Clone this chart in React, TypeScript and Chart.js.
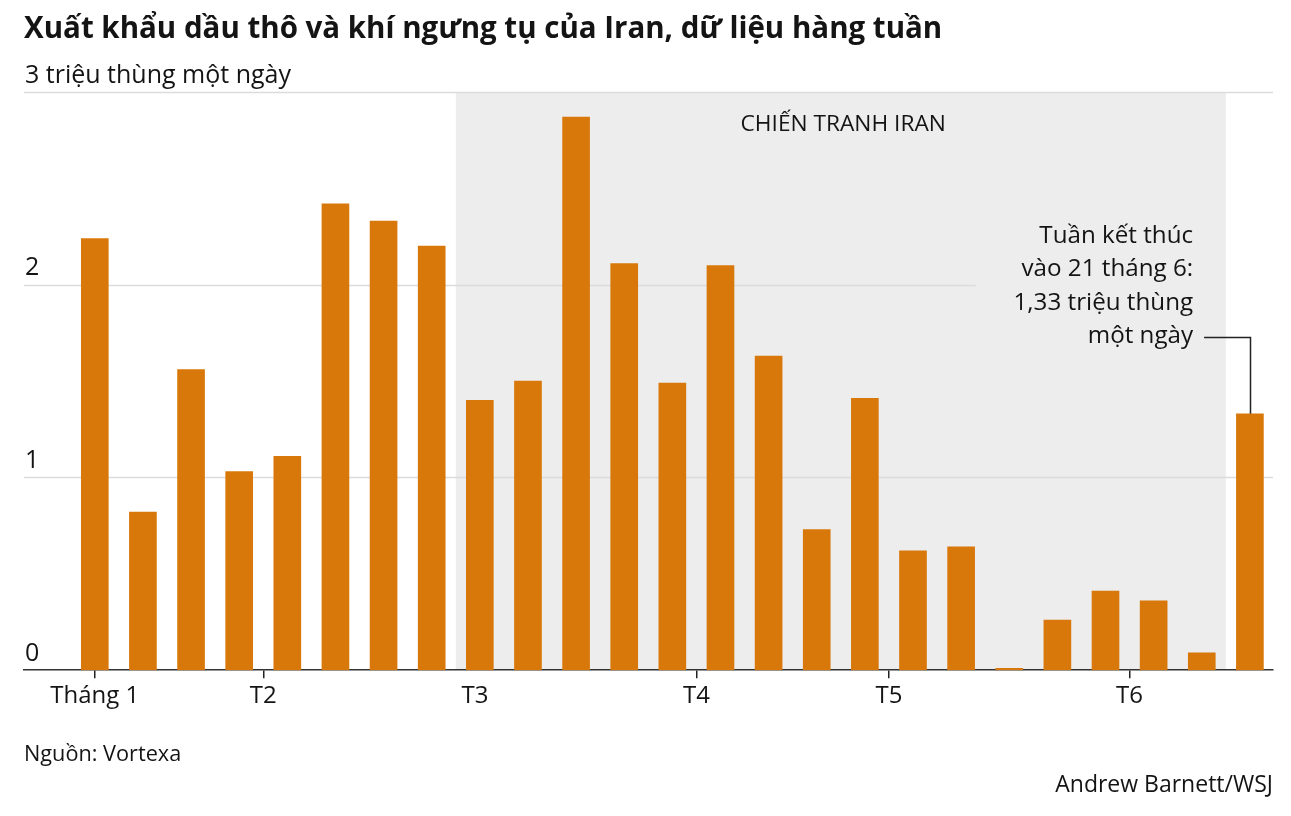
import React, { useEffect, useRef } from "react";
import { Chart, registerables } from "chart.js";

Chart.register(...registerables);

// ---- Data ----
const weekPositions = [0, 1, 2, 3, 4, 5, 6, 7, 8, 9, 10, 11, 12, 13, 14, 15, 16, 17, 18, 19, 20, 21, 22, 23, 24];
const exportsMbd = [
  2.24, 0.82, 1.56, 1.03, 1.11, 2.42, 2.33, 2.2, 1.4, 1.5, 2.87, 2.11, 1.49, 2.1, 1.63,
  0.73, 1.41, 0.62, 0.64, 0.01, 0.26, 0.41, 0.36, 0.09, 1.33,
];
const monthTickPositions = [0, 3.5, 7.9, 12.5, 16.5, 21.5];
const monthTickLabels = ["Tháng 1", "T2", "T3", "T4", "T5", "T6"];
const yTickValues = [0, 1, 2, 3];
const yTickLabels = ["0", "1", "2", "3 triệu thùng một ngày"];
const warPeriod = [7.5, 23.5];
const warLabel = "CHIẾN TRANH IRAN";
const noteLines = ["Tuần kết thúc", "vào 21 tháng 6:", "1,33 triệu thùng", "một ngày"];
const noteBarIndex = 24;

const TITLE = "Xuất khẩu dầu thô và khí ngưng tụ của Iran, dữ liệu hàng tuần";
const SOURCE = "Nguồn: Vortexa";
const CREDIT = "Andrew Barnett/WSJ";

const FONT = '"Open Sans", "Noto Sans", sans-serif';
const BAR_COLOR = "#d9780a";
const TEXT = "#141414";

const overlayPlugin = {
  id: "overlay",
  beforeDraw(chart: any) {
    const { ctx, scales } = chart;
    const x = scales.x;
    const y = scales.y;
    ctx.save();
    ctx.fillStyle = "#ffffff";
    ctx.fillRect(0, 0, chart.width, chart.height);
    const x0 = x.getPixelForValue(warPeriod[0]);
    const x1 = x.getPixelForValue(warPeriod[1]);
    const yTop = y.getPixelForValue(3);
    const yBot = y.getPixelForValue(0);
    ctx.fillStyle = "#ededee";
    ctx.fillRect(x0, yTop, x1 - x0, yBot - yTop);
    ctx.restore();
  },
  beforeDatasetsDraw(chart: any) {
    const { ctx, scales, chartArea } = chart;
    const x = scales.x;
    const y = scales.y;
    ctx.save();
    ctx.strokeStyle = "#dcdcdc";
    ctx.lineWidth = 1.5;
    yTickValues.forEach((v) => {
      if (v === 0) return;
      const py = Math.round(y.getPixelForValue(v)) + 0.5;
      // the "2" line stops short of the annotation text
      const right = v === 2 ? x.getPixelForValue(18.3) : chartArea.right;
      ctx.beginPath();
      ctx.moveTo(chartArea.left, py);
      ctx.lineTo(right, py);
      ctx.stroke();
    });
    ctx.restore();
  },
  afterDraw(chart: any) {
    const { ctx, scales, chartArea } = chart;
    const x = scales.x;
    const y = scales.y;
    ctx.save();
    ctx.fillStyle = TEXT;
    ctx.textAlign = "left";
    ctx.textBaseline = "alphabetic";

    // Title
    ctx.font = `bold 29.5px ${FONT}`;
    ctx.fillText(TITLE, 24, 38);

    // Y labels (drawn above their gridlines)
    ctx.font = `25px ${FONT}`;
    yTickValues.forEach((v, i) => {
      const py = y.getPixelForValue(v);
      ctx.fillText(yTickLabels[i], chartArea.left + 1, py - 9.5);
    });

    // War label
    ctx.font = `22.7px ${FONT}`;
    ctx.textAlign = "center";
    ctx.fillText(warLabel, x.getPixelForValue(15.55), y.getPixelForValue(2.8));

    // Note on last bar
    ctx.font = `24.2px ${FONT}`;
    ctx.textAlign = "right";
    const noteRight = x.getPixelForValue(22.82);
    const firstBase = y.getPixelForValue(2.216);
    const lh = 33.3;
    noteLines.forEach((line, i) => ctx.fillText(line, noteRight, firstBase + i * lh));

    // Connector
    const barX = x.getPixelForValue(weekPositions[noteBarIndex]);
    const barTop = y.getPixelForValue(exportsMbd[noteBarIndex]);
    const lineY = Math.round(firstBase + 3 * lh - 6) + 0.5;
    ctx.strokeStyle = "#222";
    ctx.lineWidth = 1.5;
    ctx.beginPath();
    ctx.moveTo(noteRight + 11, lineY);
    ctx.lineTo(Math.round(barX) + 0.5, lineY);
    ctx.lineTo(Math.round(barX) + 0.5, barTop);
    ctx.stroke();

    // Footer
    ctx.font = `21.7px ${FONT}`;
    ctx.textAlign = "left";
    ctx.fillText(SOURCE, 24, 761);
    ctx.font = `23px ${FONT}`;
    ctx.textAlign = "right";
    ctx.fillText(CREDIT, 1273, 792);
    ctx.restore();
  },
};

export default function App() {
  const canvasRef = useRef<HTMLCanvasElement | null>(null);

  useEffect(() => {
    const canvas = canvasRef.current;
    if (!canvas) return;
    const chart = new Chart(canvas, {
      type: "bar",
      data: {
        datasets: [
          {
            data: weekPositions.map((p, i) => ({ x: p, y: exportsMbd[i] })),
            backgroundColor: BAR_COLOR,
            borderWidth: 0,
            barThickness: 27,
          },
        ],
      },
      options: {
        responsive: false,
        animation: false,
        devicePixelRatio: 1,
        layout: { padding: { left: 24, right: 18, top: 92, bottom: 101 } },
        plugins: { legend: { display: false }, tooltip: { enabled: false }, title: { display: false } },
        scales: {
          x: {
            type: "linear",
            min: -1.471,
            max: 24.48,
            offset: false,
            afterBuildTicks: (scale: any) => {
              scale.ticks = monthTickPositions.map((v) => ({ value: v }));
            },
            ticks: {
              autoSkip: false,
              maxRotation: 0,
              minRotation: 0,
              padding: 4,
              color: TEXT,
              font: { family: FONT, size: 24 },
              callback: (value: any) => {
                const idx = monthTickPositions.indexOf(Number(value));
                return idx >= 0 ? monthTickLabels[idx] : "";
              },
            },
            grid: {
              display: true,
              offset: false,
              drawOnChartArea: false,
              drawTicks: true,
              tickLength: 8,
              lineWidth: 1.5,
              color: (c: any) => (c.tick && c.tick.value === 7.9 ? "rgba(0,0,0,0)" : "#222"),
            },
            border: { display: true, color: "#333", width: 1.5 },
          },
          y: {
            display: false,
            min: 0,
            max: 3,
          },
        },
      },
      plugins: [overlayPlugin],
    } as any);
    return () => chart.destroy();
  }, []);

  return (
    <div style={{ position: "fixed", left: 0, top: 0, width: 1291, height: 816, background: "#fff" }}>
      <canvas ref={canvasRef} width={1291} height={816} style={{ width: 1291, height: 816, display: "block" }} />
    </div>
  );
}
